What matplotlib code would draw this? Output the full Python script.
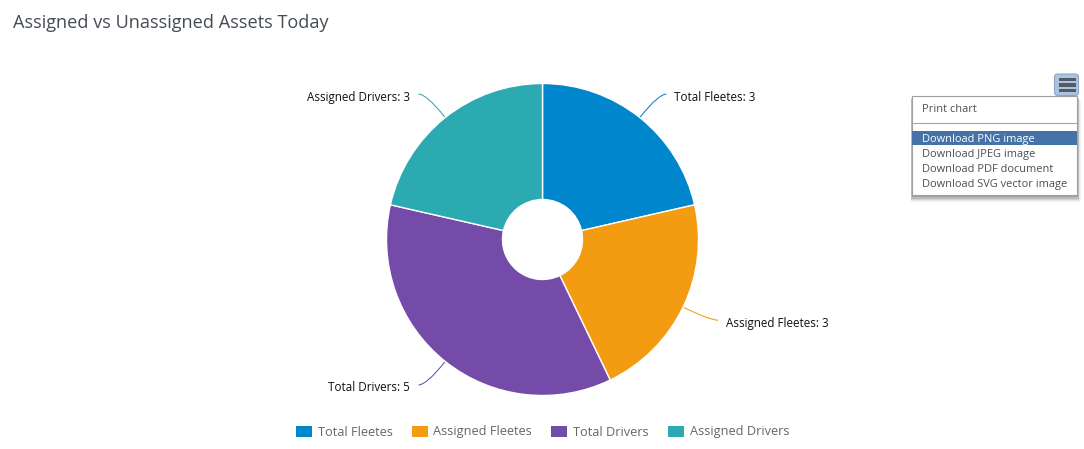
import numpy as np
import matplotlib
matplotlib.use("Agg")
import matplotlib.pyplot as plt
from matplotlib.patches import Rectangle, FancyBboxPatch, PathPatch
from matplotlib.path import Path

plt.rcParams['font.family'] = ['Open Sans', 'DejaVu Sans']

title = "Assigned vs Unassigned Assets Today"
categories = ["Total Fleetes", "Assigned Fleetes", "Total Drivers", "Assigned Drivers"]
values = [3, 3, 5, 3]
colors = ["#0086CC", "#F39C12", "#744BA9", "#2BAAB1"]
menu_items = ["Download PNG image", "Download JPEG image", "Download PDF document", "Download SVG vector image"]

W, H = 1084, 449
fig = plt.figure(figsize=(W / 100, H / 100), dpi=100, facecolor="white")

# overlay in pixel coordinates
bg = fig.add_axes([0, 0, 1, 1])
bg.set_xlim(0, W); bg.set_ylim(H, 0); bg.axis("off")

# pie
cx, cy, R = 542.5, 239.5, 156
ax = fig.add_axes([(cx - R) / W, 1 - (cy + R) / H, 2 * R / W, 2 * R / H])
wedges, _ = ax.pie(values, colors=colors, startangle=90, counterclock=False, radius=1,
                   wedgeprops=dict(width=1 - 40 / 156, edgecolor="white", linewidth=1))
ax.set_xlim(-1, 1); ax.set_ylim(-1, 1); ax.set_aspect("equal")

bg.text(13, 23, title, fontsize=13.05, color="#444b52", va="center", ha="left")

# data labels with curved connectors
for w, cat, val, col in zip(wedges, categories, values, colors):
    a = np.deg2rad((w.theta1 + w.theta2) / 2)
    ux, uy = np.cos(a), -np.sin(a)
    sx = np.sign(ux)
    p0 = (cx + R * ux, cy + R * uy)
    ly = cy + (R + 30) * uy
    lx = cx + (R + 30) * ux + 8 * sx
    p1 = (lx - 8 * sx, ly)
    bg.add_patch(PathPatch(Path([p0, p1, (lx, ly)], [Path.MOVETO, Path.CURVE3, Path.CURVE3]),
                           fc="none", ec=col, lw=0.75, zorder=5))
    bg.text(lx + (8 if sx > 0 else -9), ly + 3, f"{cat}: {val}", fontsize=8.4, color="#111111",
            ha="left" if sx > 0 else "right", va="center")

# legend
leg = fig.legend(wedges, categories, loc="center", bbox_to_anchor=(542.5 / W, 1 - 432 / H),
                 ncol=4, frameon=False, handlelength=1.25, handleheight=0.95, handletextpad=0.45,
                 columnspacing=1.5, fontsize=9.2, labelcolor="#5f6870", borderpad=0, borderaxespad=0)
for h in leg.legend_handles:
    h.set_edgecolor("none")

# export button
bg.add_patch(FancyBboxPatch((1054.5, 74), 24, 21.5, boxstyle="round,pad=0,rounding_size=3",
                            fc="#ABC3E3", ec="#8FA6C4", lw=0.8, zorder=6))
for y in (79.5, 85, 90.5):
    bg.add_patch(Rectangle((1059, y - 1.6), 17, 3.2, fc="#555b63", ec="none", zorder=7))

# export menu
for off, a in zip((6, 5, 4, 3, 2, 1), (0.04, 0.06, 0.08, 0.11, 0.14, 0.18)):
    bg.add_patch(Rectangle((912 - off * 0.2, 96 + off * 0.6), 165 + off * 0.8, 99 + off * 0.6,
                           fc="black", ec="none", alpha=a, zorder=8))
bg.add_patch(Rectangle((911.5, 95.5), 165.5, 99.5, fc="white", ec="#A0A0A0", lw=0.8, zorder=9))
bg.text(922.5, 110, "Print chart", fontsize=7.95, color="#4a4f55", va="center", zorder=10)
bg.plot([912, 1077], [123, 123], color="#A5A5A5", lw=0.8, zorder=10)
bg.add_patch(Rectangle((912, 131), 165, 14, fc="#4572A7", ec="none", zorder=10))
for i, item in enumerate(menu_items):
    bg.text(922.5, 139.5 + 15 * i, item, fontsize=7.95, va="center", zorder=11,
            color="white" if i == 0 else "#4a4f55")

fig.savefig("out.png", dpi=100, facecolor="white")
